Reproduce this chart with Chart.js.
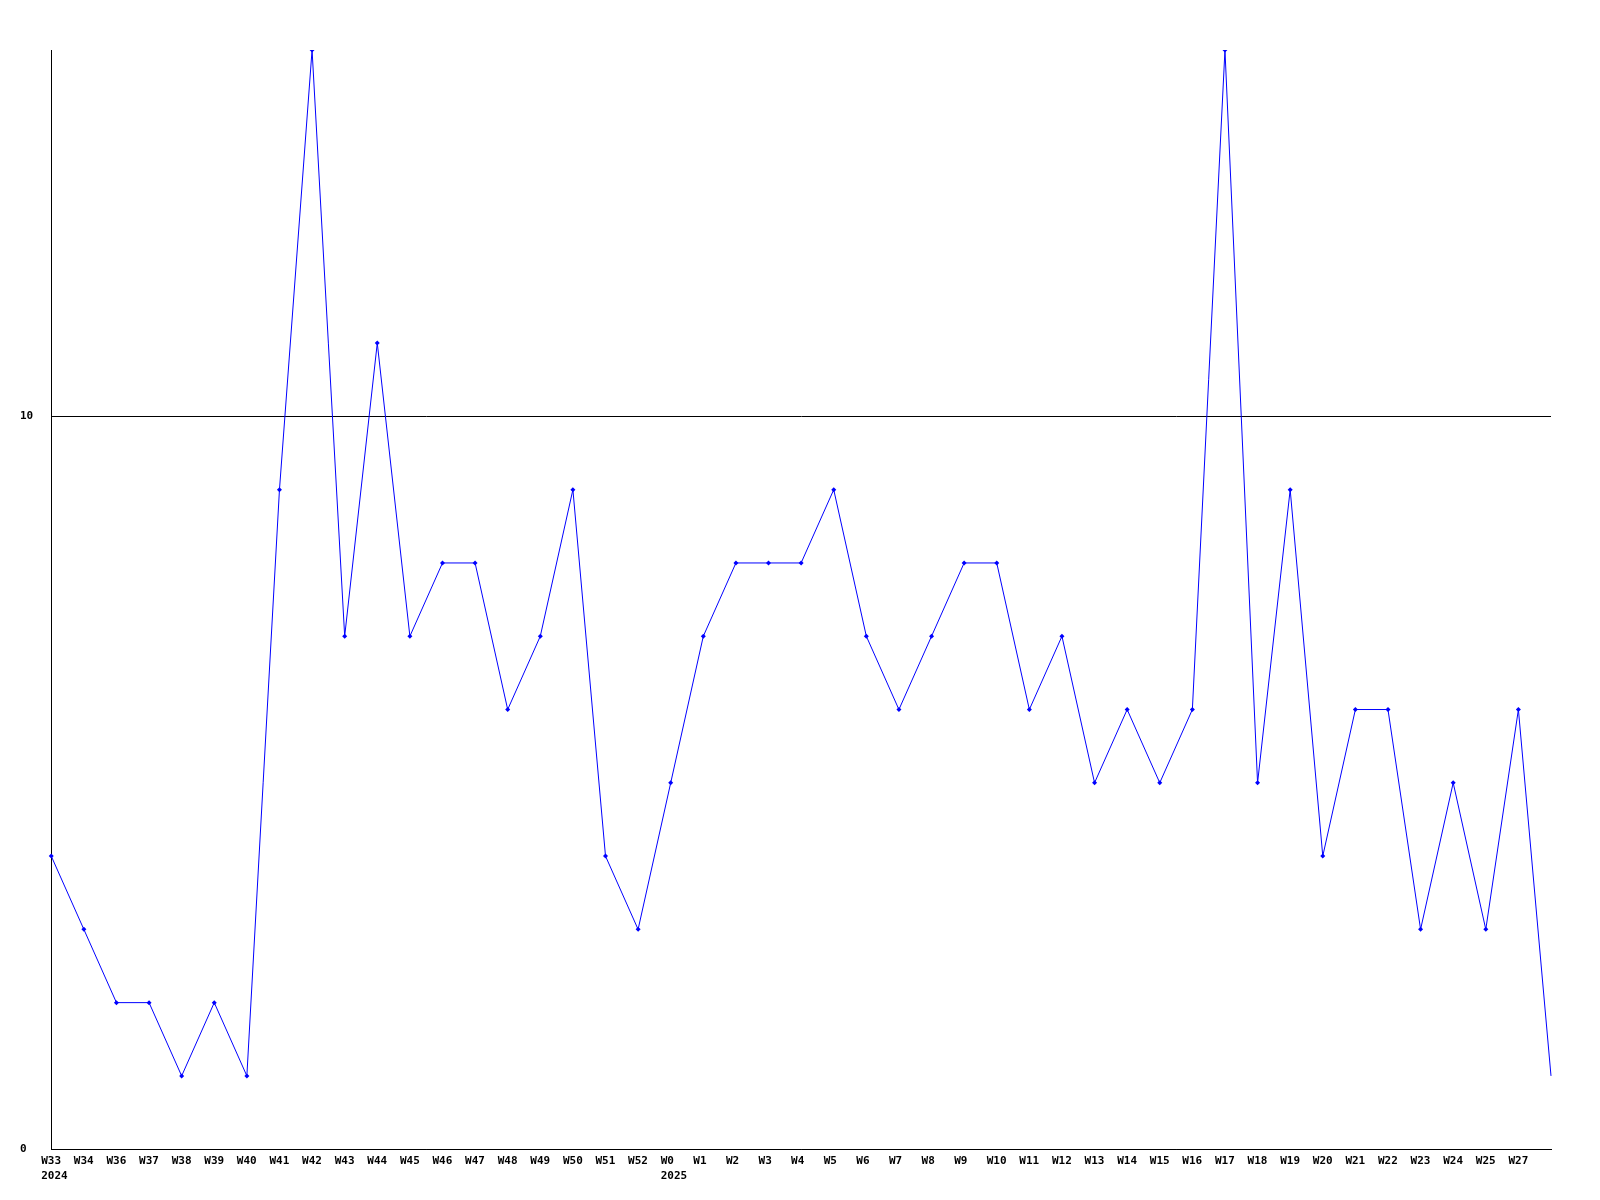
<!DOCTYPE html>
<html>
<head>
<meta charset="utf-8">
<script src="https://cdn.jsdelivr.net/npm/chart.js@4"></script>
<style>
  html, body { margin: 0; padding: 0; background: #fff; }
  #wrap { width: 1600px; height: 1200px; }
</style>
</head>
<body>
<div id="wrap"><canvas id="grafica"></canvas></div>
<script>
// ===============================
// DATOS
// ===============================
const semanas = [
    ["W33", "2024"], "W34", "W36", "W37", "W38", "W39", "W40", "W41", "W42", "W43",
    "W44", "W45", "W46", "W47", "W48", "W49", "W50", "W51", "W52",
    ["W0", "2025"], "W1", "W2", "W3", "W4", "W5", "W6", "W7", "W8", "W9", "W10",
    "W11", "W12", "W13", "W14", "W15", "W16", "W17", "W18", "W19", "W20",
    "W21", "W22", "W23", "W24", "W25", "W27", ""
];

const valores = [
    4, 3, 2, 2, 1, 2, 1, 9, 15, 7,
    11, 7, 8, 8, 6, 7, 9, 4, 3,
    5, 7, 8, 8, 8, 9, 7, 6, 7, 8, 8,
    6, 7, 5, 6, 5, 6, 15, 5, 9, 4,
    6, 6, 3, 5, 3, 6, 1
];

// el ultimo punto no lleva marca
const radios = valores.map((v, i) => i === valores.length - 1 ? 0 : 2.5);

// ===============================
// GRAFICA
// ===============================
const fuente = { family: "'DejaVu Sans Mono', monospace", size: 11, weight: "bold", lineHeight: 1.4 };

new Chart(document.getElementById("grafica"), {
    type: "line",
    data: {
        labels: semanas,
        datasets: [{
            data: valores,
            borderColor: "#0000ff",
            backgroundColor: "#0000ff",
            borderWidth: 1,
            pointStyle: "rectRot",
            pointRadius: radios,
            pointBorderWidth: 0,
            tension: 0,
            fill: false
        }]
    },
    options: {
        responsive: true,
        maintainAspectRatio: false,
        animation: false,
        layout: { padding: { top: 50, right: 49, left: 20, bottom: 12 } },
        plugins: { legend: { display: false }, tooltip: { enabled: false } },
        scales: {
            x: {
                offset: false,
                grid: { display: false, drawTicks: false },
                border: { display: true, color: "#000", width: 1 },
                ticks: {
                    color: "#000",
                    font: fuente,
                    autoSkip: false,
                    maxRotation: 0,
                    minRotation: 0,
                    align: "start",
                    labelOffset: -10,
                    padding: 4
                }
            },
            y: {
                min: 0,
                max: 15,
                grid: { color: "#000", lineWidth: 1, drawTicks: false },
                border: { display: true, color: "#000", width: 1 },
                ticks: {
                    stepSize: 10,
                    includeBounds: false,
                    color: "#000",
                    font: fuente,
                    crossAlign: "far",
                    padding: 9
                }
            }
        }
    }
});
</script>
</body>
</html>
